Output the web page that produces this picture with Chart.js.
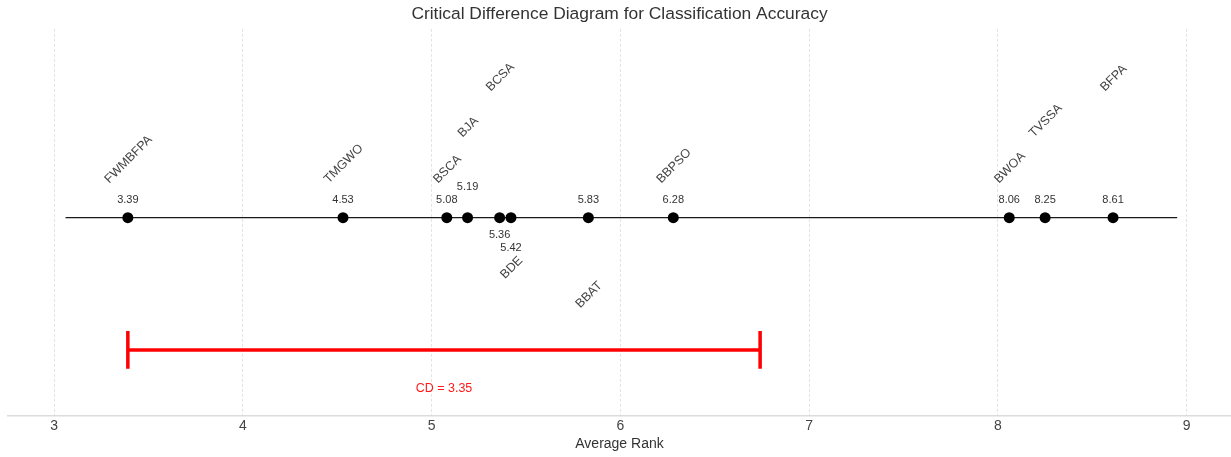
<!DOCTYPE html>
<html>
<head>
<meta charset="utf-8">
<script src="https://cdn.jsdelivr.net/npm/chart.js@4.4.1/dist/chart.umd.min.js"></script>
<style>
  html, body { margin: 0; padding: 0; background: #fff; overflow: hidden; }
  #wrap { width: 1231px; height: 457px; }
  canvas { display: block; }
</style>
</head>
<body>
<div id="wrap"><canvas id="cd"></canvas></div>
<script>
  // ---- data ----
  const methods = ['FWMBFPA', 'TMGWO', 'BSCA', 'BJA', 'BCSA', 'BDE', 'BBAT', 'BBPSO', 'BWOA', 'TVSSA', 'BFPA'];
  const avgRanks = [3.39, 4.53, 5.08, 5.19, 5.36, 5.42, 5.83, 6.28, 8.06, 8.25, 8.61];
  const xTicks = [3, 4, 5, 6, 7, 8, 9];
  const cdValue = 3.35;
  const rankLine = [3.06, 8.95]; // extent of the black rank axis

  // ---- label layout (px, relative to the rank line) ----
  // name: negative = ink bottom above line, positive = ink top below line
  const nameOffset = [-34, -34, -34, -80, -126, 37, 62, -34, -34, -80, -126];
  // value label centre offset
  const valueOffset = [-18, -18, -18, -31, 17, 30, -18, -18, -18, -18, -18];

  const FONT = "'Liberation Sans', Arial, sans-serif";
  const LINE_Y = 0, CD_Y = -0.7, CD_TICK = 0.1;
  const cdStart = avgRanks[0];
  const cdEnd = cdStart + cdValue;

  const labelsPlugin = {
    id: 'cdLabels',
    afterDatasetsDraw(chart) {
      const { ctx, scales: { x, y } } = chart;
      const y0 = y.getPixelForValue(LINE_Y);
      ctx.save();
      ctx.textAlign = 'center';
      ctx.textBaseline = 'middle';
      methods.forEach((m, i) => {
        const px = x.getPixelForValue(avgRanks[i]);
        // rank value
        ctx.font = '11px ' + FONT;
        ctx.fillStyle = '#333';
        ctx.fillText(avgRanks[i].toFixed(2), px, y0 + valueOffset[i]);
        // method name at 45 degrees
        ctx.font = '12.5px ' + FONT;
        const w = ctx.measureText(m).width;
        const ext = (w + 12.5 * 0.72) / Math.SQRT2;
        const off = nameOffset[i];
        const cy = off < 0 ? y0 + off - ext / 2 : y0 + off + ext / 2;
        ctx.save();
        ctx.translate(px, cy);
        ctx.rotate(-Math.PI / 4);
        ctx.fillStyle = '#444';
        ctx.fillText(m, 0, 1);
        ctx.restore();
      });
      // CD label
      ctx.font = '12.5px ' + FONT;
      ctx.fillStyle = '#ff1a1a';
      ctx.fillText('CD = ' + cdValue.toFixed(2), x.getPixelForValue((cdStart + cdEnd) / 2), y.getPixelForValue(CD_Y) + 39);
      ctx.restore();
    }
  };

  new Chart(document.getElementById('cd'), {
    type: 'scatter',
    data: {
      datasets: [
        { label: 'ranks', data: avgRanks.map((r) => ({ x: r, y: LINE_Y })), backgroundColor: '#000', borderWidth: 0,
          pointRadius: 5.5, order: 0 },
        { label: 'axis', data: rankLine.map((r) => ({ x: r, y: LINE_Y })), showLine: true, borderColor: '#1a1a1a',
          borderWidth: 1.3, pointRadius: 0, order: 1 },
        { label: 'cd', data: [{ x: cdStart, y: CD_Y }, { x: cdEnd, y: CD_Y }], showLine: true, borderColor: '#ff0000',
          borderWidth: 3.5, pointRadius: 0, order: 2 },
        { label: 'cdL', data: [{ x: cdStart, y: CD_Y + CD_TICK }, { x: cdStart, y: CD_Y - CD_TICK }], showLine: true,
          borderColor: '#ff0000', borderWidth: 3.5, pointRadius: 0, order: 2 },
        { label: 'cdR', data: [{ x: cdEnd, y: CD_Y + CD_TICK }, { x: cdEnd, y: CD_Y - CD_TICK }], showLine: true,
          borderColor: '#ff0000', borderWidth: 3.5, pointRadius: 0, order: 2 }
      ]
    },
    options: {
      responsive: true,
      maintainAspectRatio: false,
      animation: false,
      layout: { autoPadding: false, padding: { left: 8, right: 0, top: 0, bottom: 0 } },
      plugins: {
        legend: { display: false },
        tooltip: { enabled: false },
        title: {
          display: true, text: 'Critical Difference Diagram for Classification Accuracy',
          color: '#333', font: { family: FONT, size: 17.4, weight: 'normal' }, padding: { top: 4, bottom: 4 }
        }
      },
      scales: {
        x: {
          type: 'linear', min: 2.755, max: 9.235,
          afterBuildTicks: (s) => { s.ticks = xTicks.map((v) => ({ value: v })); },
          afterFit: (s) => { s.height = 41; s.paddingLeft = 0; s.paddingRight = 0; },
          ticks: { color: '#444', font: { family: FONT, size: 14 }, padding: 2, includeBounds: false },
          grid: { color: '#e3e3e3', lineWidth: 1, drawTicks: false },
          border: { color: '#dcdcdc', width: 1.5, dash: [3, 2] },
          title: { display: true, text: 'Average Rank', color: '#333', font: { family: FONT, size: 14 },
            padding: { top: 0, bottom: 4 } }
        },
        y: { display: false, min: -1.05, max: 1 }
      }
    },
    plugins: [labelsPlugin]
  });
</script>
</body>
</html>
